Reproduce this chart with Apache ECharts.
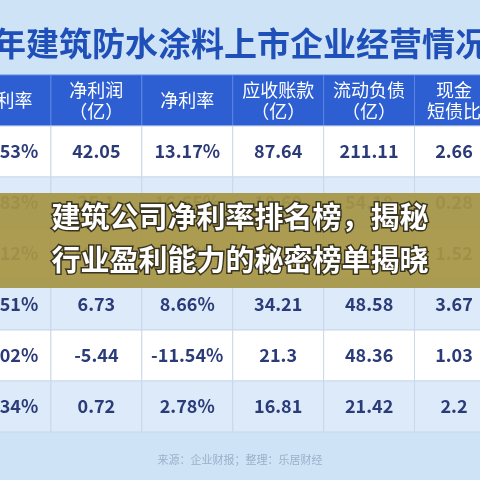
<!DOCTYPE html>
<html><head><meta charset="utf-8">
<script src="https://cdn.jsdelivr.net/npm/echarts@6/dist/echarts.min.js"></script>
<style>html,body{margin:0;padding:0;background:#cfe3f6}#c{width:480px;height:480px}</style>
</head><body><div id="c"></div>
<script>
const headers = ["毛利率", "净利润\n（亿）", "净利率", "应收账款\n（亿）", "流动负债\n（亿）", "现金\n短债比"];
const rowIds = ["h", "r1", "r2", "r3", "r4", "r5", "r6"];
const grossMargin = ["29.53%", "28.83%", "25.12%", "24.51%", "20.02%", "22.34%"];
const netProfit = ["42.05", "35.1", "12.38", "6.73", "-5.44", "0.72"];
const netMargin = ["13.17%", "16.65%", "10.21%", "8.66%", "-11.54%", "2.78%"];
const receivables = ["87.64", "18.69", "40.15", "34.21", "21.3", "16.81"];
const currentLiab = ["211.11", "54.18", "60.27", "48.58", "48.36", "21.42"];
const cashRatio = ["2.66", "0.28", "1.52", "3.67", "1.03", "2.2"];
const cols = [grossMargin, netProfit, netMargin, receivables, currentLiab, cashRatio];

const data = [];
headers.forEach((h, c) => data.push([c, 0, h]));
cols.forEach((arr, c) => arr.forEach((v, r) => data.push([c, r + 1, v])));

const chart = echarts.init(document.getElementById('c'));
chart.setOption({
  backgroundColor: '#cfe3f6',
  animation: false,
  title: [
    {text: '年建筑防水涂料上市企业经营情况', left: -12, top: 22,
     textStyle: {fontSize: 33, fontWeight: 'bold', color: '#1f4fb8', fontFamily: 'Noto Sans CJK SC'}},
    {text: '来源：企业财报；整理：乐居财经', left: 'center', top: 449,
     textStyle: {fontSize: 11, fontWeight: 'normal', color: '#9ab0c8', fontFamily: 'Noto Sans CJK SC'}}
  ],
  grid: {left: 0, right: 0, top: 75, bottom: 48},
  xAxis: {type: 'value', min: 0.44, max: 5.72, show: false},
  yAxis: {type: 'category', data: rowIds, inverse: true, show: false},
  series: [{
    type: 'custom',
    data: data,
    renderItem: function (params, api) {
      const c = api.value(0), r = api.value(1);
      const p = api.coord([c + 0.5, r]);
      const s = [api.size([1, 0])[0], api.size([0, 1])[1]];
      const isH = r === 0;
      const fill = isH ? '#2d5fd2' : (r % 2 === 1 ? '#ffffff' : '#dceafa');
      return {
        type: 'group',
        children: [
          {type: 'rect', shape: {x: p[0] - s[0] / 2, y: p[1] - s[1] / 2, width: s[0], height: s[1]},
           style: {fill: fill, stroke: isH ? '#5a85e0' : '#c9d8ea', lineWidth: 1}},
          {type: 'text', x: p[0] - (c === 5 ? 6 : 0), y: p[1],
           style: {text: data[params.dataIndex][2], align: 'center', verticalAlign: 'middle',
             fill: isH ? '#ffffff' : '#2a3b78', fontSize: 18,
             fontWeight: isH ? 'normal' : 'bold', lineHeight: 21,
             fontFamily: 'Noto Sans CJK SC'}}
        ]
      };
    }
  }],
  graphic: [
    {type: 'rect', shape: {x: 0, y: 193, width: 480, height: 95},
     style: {fill: 'rgba(166,150,70,0.94)'}, z: 10},
    {type: 'text', left: 'center', top: 195, z: 11,
     style: {text: '建筑公司净利率排名榜，揭秘\n行业盈利能力的秘密榜单揭晓', fill: '#ffffff',
       fontSize: 29, fontWeight: 'bold', lineHeight: 43, align: 'center',
       stroke: '#3a3520', lineWidth: 3, fontFamily: 'Noto Sans CJK SC'}}
  ]
});
</script></body></html>
